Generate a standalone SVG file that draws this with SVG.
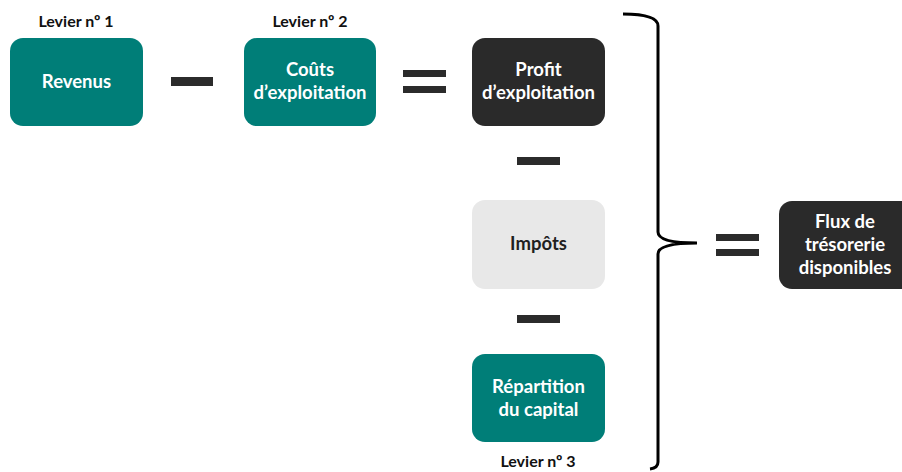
<svg xmlns="http://www.w3.org/2000/svg" width="902" height="472" viewBox="0 0 902 472">
<style>
.box{stroke:none}
.teal{fill:#007e78}
.dark{fill:#2a2a2a}
.light{fill:#e8e8e8}
.t{font-family:Lato,"Open Sans","Liberation Sans",sans-serif;font-weight:700;font-size:18.5px;text-anchor:middle}
.w{fill:#ffffff}
.k{fill:#1f1f1f}
.lab{font-family:Lato,"Open Sans","Liberation Sans",sans-serif;font-weight:700;font-size:16px;text-anchor:middle;fill:#111}
.op{fill:#2b2b2b}
</style>
<rect width="902" height="472" fill="#ffffff"/>
<g id="revenus">
<rect class="box teal" x="10" y="38" width="133" height="88" rx="13"/>
<text class="t w" x="76.5" y="88">Revenus</text>
<text class="lab" x="76" y="27">Levier nº 1</text>
</g>
<g id="couts">
<rect class="box teal" x="244" y="38" width="132" height="88" rx="13"/>
<text class="t w" x="310" y="76">Coûts</text>
<text class="t w" x="310" y="99">d’exploitation</text>
<text class="lab" x="310" y="27">Levier nº 2</text>
</g>
<g id="profit">
<rect class="box dark" x="472" y="38" width="133" height="88" rx="13"/>
<text class="t w" x="538.5" y="76">Profit</text>
<text class="t w" x="538.5" y="99">d’exploitation</text>
</g>
<g id="impots">
<rect class="box light" x="472" y="200" width="133" height="89" rx="13"/>
<text class="t k" x="538.5" y="250">Impôts</text>
</g>
<g id="repartition">
<rect class="box teal" x="472" y="354" width="133" height="88" rx="13"/>
<text class="t w" x="538.5" y="393">Répartition</text>
<text class="t w" x="538.5" y="416">du capital</text>
<text class="lab" x="538" y="467">Levier nº 3</text>
</g>
<g id="flux">
<rect class="box dark" x="779" y="201" width="135" height="88" rx="13"/>
<text class="t w" x="845" y="228">Flux de</text>
<text class="t w" x="845" y="251">trésorerie</text>
<text class="t w" x="845" y="274">disponibles</text>
</g>
<g id="connectors">
<rect class="op" x="171" y="77" width="42" height="9"/>
<rect class="op" x="403" y="70" width="43" height="7"/>
<rect class="op" x="403" y="86" width="43" height="7"/>
<rect class="op" x="517" y="157" width="43" height="8"/>
<rect class="op" x="517" y="315" width="43" height="8"/>
<rect class="op" x="716" y="234" width="43" height="7"/>
<rect class="op" x="716" y="249" width="43" height="7"/>
<path d="M623 14 Q658 14 658 26 L658 232 Q658 243 697 243 Q658 243 658 254 L658 462 Q658 468 650 469" fill="none" stroke="#000" stroke-width="3"/>
</g>
</svg>
